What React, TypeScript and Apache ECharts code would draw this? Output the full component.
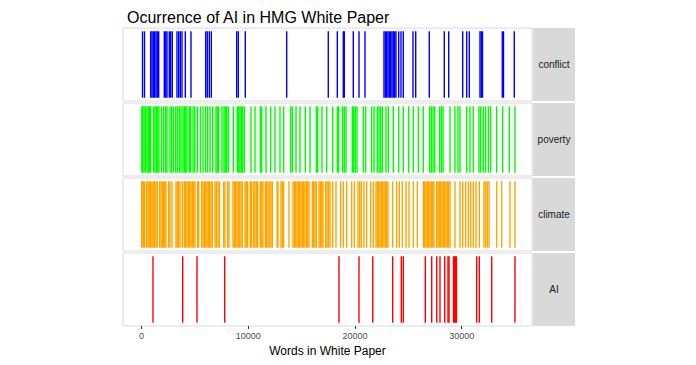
import React, { useEffect, useRef } from "react";
import * as echarts from "echarts";

const panels = ["conflict", "poverty", "climate", "AI"];
const colors = ["#0000FF", "#00FF00", "#FFA500", "#FF0000"];
const xTicks = [0, 10000, 20000, 30000];

const conflict = [84, 272, 853, 975, 1097, 1228, 1350, 1471, 1603, 2127, 2259, 2380, 2596, 2727, 2877, 3318, 3477, 3627, 3786, 4096, 4630, 6007, 6157, 6345, 6532, 8913, 9063, 9719, 13599, 17497, 18341, 18903, 18997, 19840, 20375, 20937, 22717, 22839, 22970, 23092, 23214, 23345, 23467, 23589, 23720, 23842, 24095, 24311, 24527, 25436, 25689, 26963, 28369, 28781, 30094, 30468, 30712, 31715, 31837, 31950, 33805, 33917, 34930];

const poverty = [20, 100, 225, 350, 506, 631, 756, 850, 1131, 1256, 1381, 1506, 1631, 1881, 2068, 2256, 2381, 2662, 2818, 2974, 3193, 3349, 3537, 3693, 3880, 4005, 4130, 4255, 4474, 4599, 4818, 4974, 5224, 5505, 5755, 6005, 6192, 6411, 6661, 6973, 7098, 7223, 7535, 7723, 7848, 7973, 8129, 8598, 8972, 9097, 9222, 9347, 9472, 9629, 10253, 10628, 11128, 11253, 11659, 12096, 12503, 12971, 13315, 13971, 14127, 14471, 14846, 15345, 15783, 16376, 16501, 16907, 17345, 17907, 18344, 18469, 18844, 19001, 19157, 19750, 19875, 20031, 20188, 20781, 21000, 21562, 21781, 22093, 22249, 22406, 22562, 22906, 23124, 23593, 24093, 24530, 25030, 25467, 25936, 26404, 26998, 27154, 27310, 27467, 27935, 28091, 28248, 28904, 29372, 29653, 29841, 30466, 30778, 31090, 31621, 31778, 32028, 32246, 32496, 32715, 33277, 33840, 34464, 34995];

const climate = [10, 38, 163, 288, 475, 600, 725, 850, 975, 1100, 1225, 1350, 1475, 1694, 1819, 1943, 2037, 2162, 2287, 2537, 2662, 2849, 3224, 3349, 3474, 3599, 3818, 4005, 4130, 4255, 4380, 4505, 4630, 4755, 4880, 5005, 5255, 5349, 5630, 5755, 5880, 6005, 6130, 6255, 6380, 6505, 6629, 6879, 7004, 7161, 7286, 7692, 7817, 8067, 8192, 8566, 8691, 8816, 8941, 9066, 9191, 9316, 9441, 9691, 9816, 9941, 10191, 10316, 10503, 10628, 10753, 10878, 11128, 11253, 11378, 11597, 11722, 11847, 12003, 12128, 12253, 12690, 12784, 13065, 13190, 13315, 13815, 14190, 14315, 14440, 14565, 14690, 14815, 14939, 15064, 15189, 15314, 15439, 15564, 15689, 16001, 16126, 16251, 16376, 16626, 16751, 16876, 17001, 17251, 17376, 17501, 17657, 17907, 18220, 18657, 18907, 19219, 19688, 19938, 20281, 20438, 20594, 20844, 21094, 21468, 21718, 21968, 22093, 22218, 22343, 22468, 22593, 22718, 22843, 22968, 23093, 23530, 23905, 24155, 24436, 24780, 25061, 25467, 25842, 26404, 26529, 26654, 26779, 26904, 27029, 27154, 27279, 27404, 27654, 27779, 27904, 28029, 28154, 28279, 28404, 28529, 28654, 28779, 28904, 29372, 29841, 30091, 30372, 30622, 30840, 31090, 31340, 31652, 32090, 32246, 32402, 32559, 33277, 33746, 34527, 34995];

const ai = [1068, 3852, 5192, 7788, 18500, 20375, 21659, 23533, 24339, 24527, 26589, 27189, 27657, 27966, 28407, 28716, 28810, 29231, 29325, 29419, 29513, 31406, 31650, 32812, 34995];

const seriesData = [conflict, poverty, climate, ai];

const X_MIN = -1743;
const X_MAX = 36589;
const LEFT = 123;
const RIGHT_EDGE = 532;
const TOPS = [28, 103, 178, 253];
const H = 73;
const FONT = "Liberation Sans, Arial, sans-serif";

export default function App() {
  const ref = useRef<HTMLDivElement>(null);
  useEffect(() => {
    const chart = echarts.init(ref.current!, null, { renderer: "svg" });
    const grids = TOPS.map((t) => ({
      left: LEFT,
      width: RIGHT_EDGE - LEFT,
      top: t,
      height: H,
      show: true,
      borderColor: "#dadada",
      borderWidth: 1,
      backgroundColor: "#ffffff",
    }));
    const xAxes = TOPS.map((_, i) => {
      const last = i === TOPS.length - 1;
      return {
        type: "value",
        gridIndex: i,
        min: X_MIN,
        max: X_MAX,
        splitLine: { show: false },
        axisLine: { show: false },
        axisTick: {
          show: last,
          length: 3,
          lineStyle: { color: "#333333" },
          customValues: xTicks,
        },
        axisLabel: {
          show: last,
          color: "#4d4d4d",
          fontSize: 9,
          fontFamily: FONT,
          margin: 5,
          customValues: xTicks,
          formatter: (v: number) => String(v),
        },
        name: last ? "Words in White Paper" : "",
        nameLocation: "middle",
        nameGap: 19,
        nameTextStyle: { color: "#000000", fontSize: 12, fontFamily: FONT },
      };
    });
    const yAxes = TOPS.map((_, i) => ({
      type: "value",
      gridIndex: i,
      min: 0,
      max: 1,
      show: false,
    }));
    const series = seriesData.map((d, i) => ({
      type: "custom",
      xAxisIndex: i,
      yAxisIndex: i,
      data: d.map((w) => [w, 0.5]),
      encode: { x: 0, y: 1 },
      renderItem: (_p: any, api: any) => {
        const x = api.coord([api.value(0), 0])[0];
        const y0 = api.coord([0, 0.045])[1];
        const y1 = api.coord([0, 0.955])[1];
        return {
          type: "line",
          shape: { x1: x, y1: y0, x2: x, y2: y1 },
          style: { stroke: colors[i], lineWidth: 1.4 },
        };
      },
    }));
    const strips: any[] = [];
    panels.forEach((p, i) => {
      strips.push({
        type: "rect",
        shape: { x: RIGHT_EDGE + 1, y: TOPS[i], width: 42, height: H },
        style: { fill: "#d9d9d9" },
      });
      strips.push({
        type: "text",
        x: RIGHT_EDGE + 1 + 21,
        y: TOPS[i] + H / 2,
        style: {
          text: p,
          fill: "#1a1a1a",
          fontSize: 10,
          fontFamily: FONT,
          align: "center",
          verticalAlign: "middle",
        },
      });
    });
    chart.setOption({
      animation: false,
      backgroundColor: "#ffffff",
      title: {
        text: "Ocurrence of AI in HMG White Paper",
        left: LEFT - 1,
        top: 4,
        textStyle: { color: "#000000", fontSize: 16, fontWeight: "normal", fontFamily: FONT },
      },
      grid: grids,
      xAxis: xAxes,
      yAxis: yAxes,
      series,
      graphic: strips,
    });
    return () => chart.dispose();
  }, []);
  return (
    <div
      ref={ref}
      style={{ position: "fixed", left: 0, top: 0, width: 696, height: 365 }}
    />
  );
}
